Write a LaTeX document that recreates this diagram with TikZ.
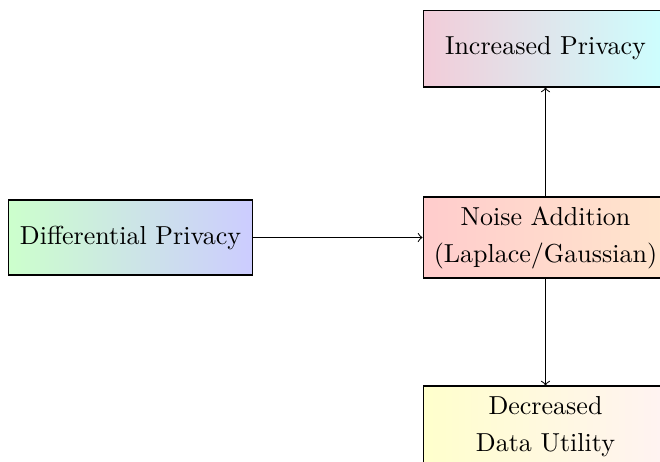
\documentclass[tikz,border=0pt]{standalone}
\usetikzlibrary{arrows}
\begin{document}
\begin{tikzpicture}[x=0.3846pt, y=-0.3846pt,
  box/.style={draw=black, thin, align=center, inner sep=0pt,
    minimum width=94.2pt, font=\fontsize{10}{14.2}\selectfont},
  link/.style={->, thin}]
  \useasboundingbox (0,0) rectangle (660,461);
  \clip (0,0) rectangle (660,461);

  \node[box, minimum height=28.85pt, left color=green!20, right color=blue!20]
    (dp) at (130.5,237.5) {Differential Privacy};
  \node[box, minimum height=31.15pt, left color=red!20, right color=orange!20]
    (noise) at (545.5,237.5) {Noise Addition\\(Laplace/Gaussian)};
  \node[box, minimum height=29.6pt, left color=purple!20, right color=cyan!20]
    (inc) at (545.5,48.5) {Increased Privacy};
  \node[box, minimum height=31.15pt, left color=yellow!20, right color=pink!20]
    (dec) at (545.5,426.5) {Decreased\\Data Utility};

  \draw[link] (dp.east) -- (noise.west);
  \draw[link] (noise.north) -- (inc.south);
  \draw[link] (noise.south) -- (dec.north);
\end{tikzpicture}
\end{document}
